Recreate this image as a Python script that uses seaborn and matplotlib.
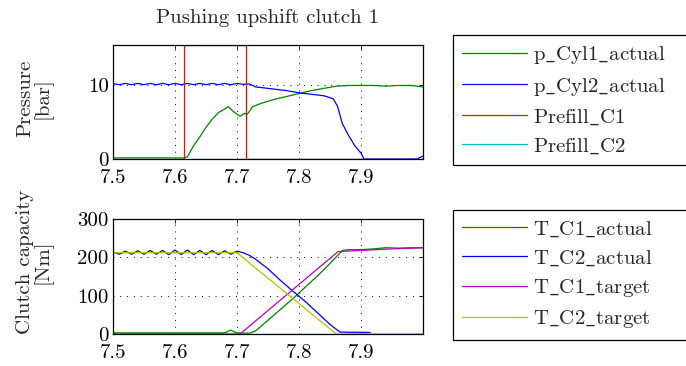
import numpy as np
import pandas as pd
import matplotlib
matplotlib.use("Agg")
import matplotlib.pyplot as plt
import seaborn as sns

# ---------------- data ----------------
title = "Pushing upshift clutch 1"

# top panel: pressure [bar]
t_p1 = [7.50, 7.615, 7.62, 7.63, 7.64, 7.65, 7.66, 7.67, 7.686, 7.695, 7.705,
        7.712, 7.717, 7.725, 7.74, 7.76, 7.78, 7.80, 7.82, 7.84, 7.86, 7.88,
        7.90, 7.92, 7.94, 7.96, 7.98, 8.00]
p_cyl1 = [0.15, 0.15, 0.3, 1.8, 3.0, 4.3, 5.4, 6.3, 7.1, 6.4, 5.8,
          6.2, 6.1, 7.1, 7.6, 8.1, 8.5, 8.9, 9.3, 9.6, 9.9, 10.0,
          10.0, 10.0, 9.9, 10.0, 10.0, 9.8]

t_p2 = [7.50, 7.51, 7.52, 7.53, 7.54, 7.55, 7.56, 7.57, 7.58, 7.59, 7.60,
        7.61, 7.62, 7.63, 7.64, 7.65, 7.66, 7.67, 7.68, 7.69, 7.70, 7.71,
        7.72, 7.73, 7.75, 7.78, 7.80, 7.82, 7.84, 7.855, 7.862, 7.87, 7.88,
        7.89, 7.90, 7.905, 7.99, 8.00]
p_cyl2 = [10.25, 10.1, 10.28, 10.1, 10.28, 10.1, 10.28, 10.1, 10.28, 10.1, 10.28,
          10.1, 10.28, 10.1, 10.28, 10.1, 10.28, 10.1, 10.28, 10.1, 10.28, 10.15,
          10.2, 9.8, 9.6, 9.3, 9.0, 8.8, 8.6, 8.2, 7.2, 4.8, 3.2,
          1.8, 0.8, 0.0, 0.0, 0.4]

t_pf1 = [7.50, 7.615, 7.615, 7.715, 7.715, 8.00]
prefill_c1 = [0.0, 0.0, 15.5, 15.5, 0.0, 0.0]
t_pf2 = [7.50, 8.00]
prefill_c2 = [0.0, 0.0]

# bottom panel: clutch capacity [Nm]
t_tc1 = [7.50, 7.68, 7.69, 7.695, 7.70, 7.72, 7.73, 7.75, 7.77, 7.79, 7.81,
         7.83, 7.85, 7.87, 7.88, 7.90, 7.92, 7.94, 7.96, 7.98, 8.00]
tc1_actual = [3, 3, 10, 6, 3, 2, 8, 36, 64, 92, 122,
              152, 184, 218, 220, 220, 222, 225, 224, 225, 225]

t_tc2 = [7.50, 7.51, 7.52, 7.53, 7.54, 7.55, 7.56, 7.57, 7.58, 7.59, 7.60,
         7.61, 7.62, 7.63, 7.64, 7.65, 7.66, 7.67, 7.68, 7.69, 7.70, 7.71,
         7.72, 7.73, 7.75, 7.77, 7.79, 7.81, 7.83, 7.85, 7.866, 7.915]
tc2_actual = [214, 208, 216, 208, 217, 208, 218, 208, 218, 207, 219,
              207, 219, 207, 218, 207, 218, 207, 217, 208, 216, 212,
              205, 195, 170, 140, 112, 85, 55, 25, 5, 4]

t_tg1 = [7.50, 7.705, 7.863, 7.90, 7.95, 8.00]
tc1_target = [0, 0, 215, 218, 222, 225]

t_tg2 = [7.50, 7.70, 7.86, 8.00]
tc2_target = [212, 212, 0, 0]

t_zero = [7.50, 8.00]
zero_line = [0, 0]

x_ticks = [7.5, 7.6, 7.7, 7.8, 7.9]
top_yticks = [0, 10]
bot_yticks = [0, 100, 200, 300]

top_labels = ["p_Cyl1_actual", "p_Cyl2_actual", "Prefill_C1", "Prefill_C2"]
bot_labels = ["T_C1_actual", "T_C2_actual", "T_C1_target", "T_C2_target"]


def tex(s):
    # render underscore as in LaTeX (\_) with Computer Modern
    return r"$\mathrm{" + s.replace("_", r"\_") + "}$"


# ---------------- style ----------------
sns.set_theme(style="white")
plt.rcParams["font.family"] = ["cmr10", "DejaVu Serif"]
plt.rcParams["axes.unicode_minus"] = False
plt.rcParams["axes.formatter.use_mathtext"] = True
plt.rcParams["mathtext.fontset"] = "cm"

C_G = (0, 0.5, 0)
C_B = (0, 0, 1)
C_R = (1, 0, 0)
C_C = (0, 0.75, 0.75)
C_M = (0.75, 0, 0.75)
C_Y = (0.75, 0.75, 0)

FS = 15

fig = plt.figure(figsize=(6.86, 3.66), dpi=100)
ax1 = fig.add_axes([113/686, 1-159/366, 310/686, 114/366])
ax2 = fig.add_axes([113/686, 1-334/366, 310/686, 115/366])


def line(ax, x, y, color, label):
    df = pd.DataFrame({"x": x, "y": y})
    sns.lineplot(data=df, x="x", y="y", ax=ax, color=color, label=label,
                 estimator=None, sort=False, linewidth=0.9)


line(ax1, t_p1, p_cyl1, C_G, tex(top_labels[0]))
line(ax1, t_p2, p_cyl2, C_B, tex(top_labels[1]))
line(ax1, t_pf1, prefill_c1, C_R, tex(top_labels[2]))
line(ax1, t_pf2, prefill_c2, C_C, tex(top_labels[3]))

df0 = pd.DataFrame({"x": t_zero, "y": zero_line})
sns.lineplot(data=df0, x="x", y="y", ax=ax2, color=C_C, estimator=None,
             sort=False, linewidth=0.9, legend=False)
line(ax2, t_tc1, tc1_actual, C_G, tex(bot_labels[0]))
line(ax2, t_tc2, tc2_actual, C_B, tex(bot_labels[1]))
line(ax2, t_tg1, tc1_target, C_M, tex(bot_labels[2]))
line(ax2, t_tg2, tc2_target, C_Y, tex(bot_labels[3]))

for ax, yt, ylim in [(ax1, top_yticks, (0, 15.5)), (ax2, bot_yticks, (0, 300))]:
    ax.set_xlim(7.5, 8.0)
    ax.set_ylim(*ylim)
    ax.set_xticks(x_ticks)
    ax.set_xticklabels([f"{v:.1f}" for v in x_ticks])
    ax.set_yticks(yt)
    ax.set_yticklabels([str(v) for v in yt])
    ax.grid(True, color="black", linestyle=(0, (1, 6)), linewidth=0.7)
    ax.tick_params(direction="in", length=3, width=0.6, top=True, right=True,
                   labelsize=FS, pad=3, colors="black")
    ax.tick_params(axis="x", pad=7)
    for s in ax.spines.values():
        s.set_color("black")
        s.set_linewidth(0.9)
    ax.set_xlabel("")
    ax.set_facecolor("white")

ax1.set_ylabel("Pressure\n[bar]", fontsize=FS, linespacing=0.9)
ax1.yaxis.set_label_coords(-0.195, 0.535)
ax2.set_ylabel("Clutch capacity\n[Nm]", fontsize=FS, linespacing=0.9)
ax2.yaxis.set_label_coords(-0.195, 0.626)

ax1.set_title(title, fontsize=FS, pad=16)

for ax, top in [(ax1, 1-35/366), (ax2, 1-210/366)]:
    leg = ax.legend(loc="upper left",
                    bbox_to_anchor=(453/686, top, 245/686, 0), mode="expand",
                    bbox_transform=fig.transFigure, fontsize=FS,
                    frameon=True, fancybox=False, framealpha=1,
                    edgecolor="black", borderaxespad=0, handlelength=3.1,
                    handletextpad=0.3, labelspacing=0.45, borderpad=0.45)
    leg.get_frame().set_linewidth(0.9)

fig.savefig("out.png", dpi=100)
